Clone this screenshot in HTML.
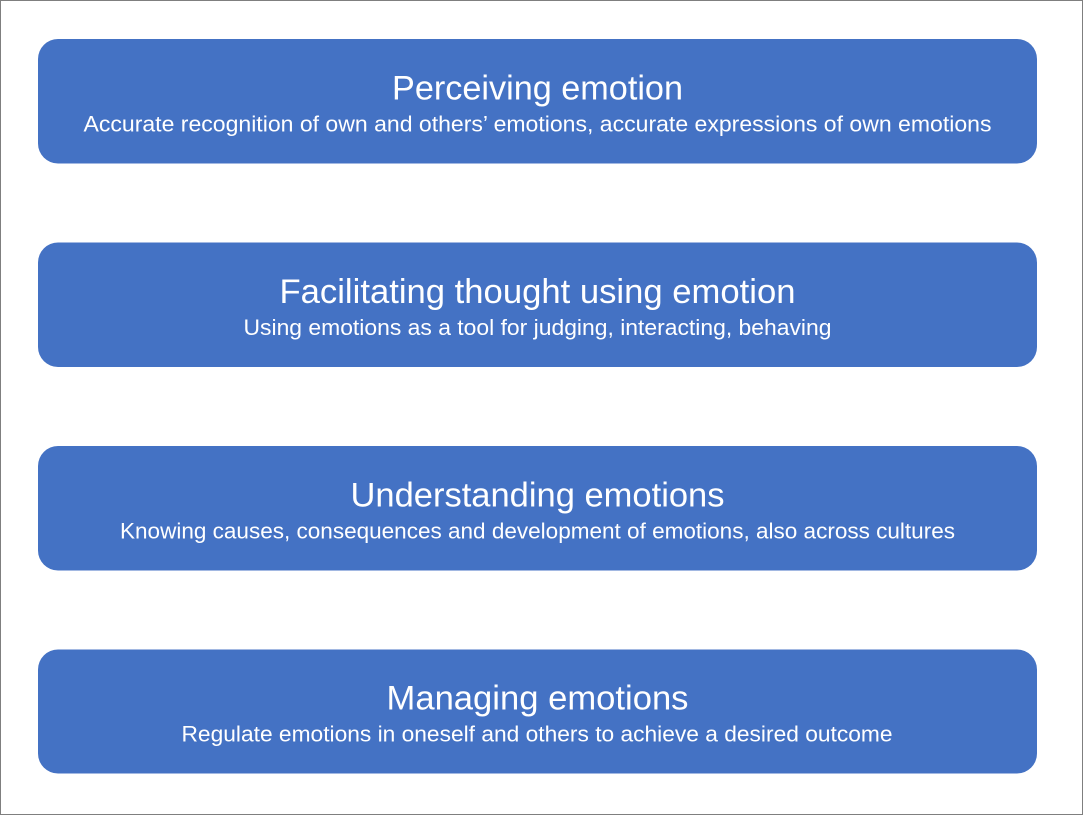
<!DOCTYPE html>
<html>
<head>
<meta charset="utf-8">
<style>
  html, body { margin: 0; padding: 0; background: #ffffff; }
  .wrap { position: relative; width: 1083px; height: 815px; box-sizing: border-box; border: 1px solid #7f7f7f; background: #ffffff; overflow: hidden; }
  svg { position: absolute; left: -1px; top: -1px; }
  text { font-family: "Liberation Sans", Arial, sans-serif; fill: #ffffff; }
</style>
</head>
<body>
<div class="wrap">
<svg width="1083" height="815" viewBox="0 0 1083 815" xmlns="http://www.w3.org/2000/svg">
  <g fill="#4472C4">
    <rect x="38" y="39" width="999" height="124.5" rx="20" ry="20"/>
    <rect x="38" y="242.5" width="999" height="124.5" rx="20" ry="20"/>
    <rect x="38" y="446" width="999" height="124.5" rx="20" ry="20"/>
    <rect x="38" y="649.5" width="999" height="124" rx="20" ry="20"/>
  </g>
  <g text-anchor="middle">
    <text x="537.5" y="99.5" font-size="34" textLength="291" lengthAdjust="spacingAndGlyphs">Perceiving emotion</text>
    <text x="537.5" y="131.5" font-size="22.5" textLength="908" lengthAdjust="spacingAndGlyphs">Accurate recognition of own and others’ emotions, accurate expressions of own emotions</text>

    <text x="537.5" y="302.8" font-size="34" textLength="516" lengthAdjust="spacingAndGlyphs">Facilitating thought using emotion</text>
    <text x="537.5" y="335" font-size="22.5" textLength="588" lengthAdjust="spacingAndGlyphs">Using emotions as a tool for judging, interacting, behaving</text>

    <text x="537.5" y="506.3" font-size="34" textLength="374" lengthAdjust="spacingAndGlyphs">Understanding emotions</text>
    <text x="537.5" y="538.3" font-size="22.5" textLength="835" lengthAdjust="spacingAndGlyphs">Knowing causes, consequences and development of emotions, also across cultures</text>

    <text x="537.5" y="709.7" font-size="34" textLength="302" lengthAdjust="spacingAndGlyphs">Managing emotions</text>
    <text x="537" y="741.3" font-size="22.5" textLength="711" lengthAdjust="spacingAndGlyphs">Regulate emotions in oneself and others to achieve a desired outcome</text>
  </g>
</svg>
</div>
</body>
</html>
